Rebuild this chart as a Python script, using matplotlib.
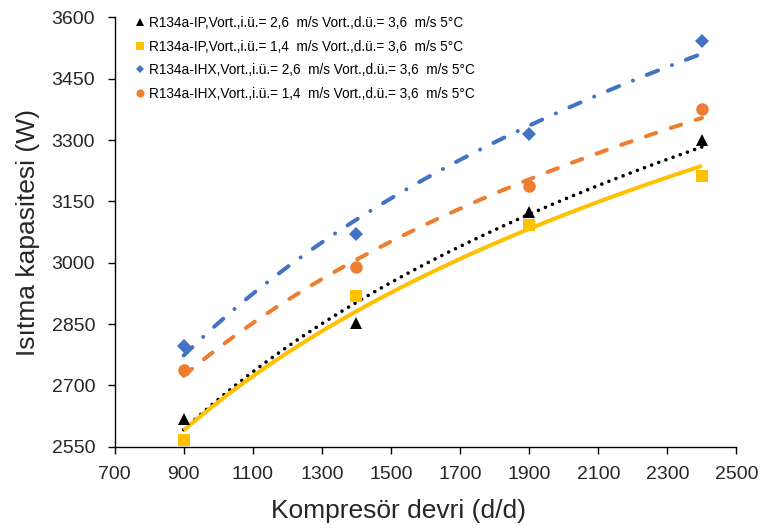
import numpy as np
import matplotlib
matplotlib.use("Agg")
import matplotlib.pyplot as plt
from matplotlib.lines import Line2D

plt.rcParams['font.family'] = ['Liberation Sans', 'DejaVu Sans']

rpm = [900, 1400, 1900, 2400]
ip_26 = [2618, 2852, 3125, 3301]
ip_14 = [2567, 2919, 3092, 3213]
ihx_26 = [2797, 3071, 3314, 3543]
ihx_14 = [2737, 2990, 3187, 3375]

labels = [
    "R134a-IP,Vort.,i.ü.= 2,6  m/s Vort.,d.ü.= 3,6  m/s 5°C",
    "R134a-IP,Vort.,i.ü.= 1,4  m/s Vort.,d.ü.= 3,6  m/s 5°C",
    "R134a-IHX,Vort.,i.ü.= 2,6  m/s Vort.,d.ü.= 3,6  m/s 5°C",
    "R134a-IHX,Vort.,i.ü.= 1,4  m/s Vort.,d.ü.= 3,6  m/s 5°C",
]
colors = ["black", "#FFC000", "#4472C4", "#ED7D31"]
markers = ["^", "s", "D", "o"]
msizes = [9, 9, 7, 9]
lstyles = [(0, (0.01, 2.1)), "-", (0, (3.0, 3.7, 0.01, 3.7)), (0, (2.7, 3.8))]
caps = ["round", "butt", "round", "round"]
lws = [2.6, 2.9, 2.9, 2.9]

fig = plt.figure(figsize=(7.64, 5.28), dpi=100)
ax = fig.add_axes([0.150, 0.154, 0.814, 0.813])

x = np.array(rpm, dtype=float)
xs = np.linspace(x.min(), x.max(), 200)
series = [ip_26, ip_14, ihx_26, ihx_14]
handles = []
for y, c, m, ms, ls, cap, lw, lab in zip(series, colors, markers, msizes, lstyles, caps, lws, labels):
    y = np.array(y, dtype=float)
    a, b = np.polyfit(np.log(x), y, 1)
    ax.plot(xs, a * np.log(xs) + b, color=c, lw=lw, linestyle=ls,
            dash_capstyle=cap, solid_capstyle="butt", zorder=2)
    ax.plot(x, y, linestyle="none", marker=m, markersize=ms, color=c,
            markeredgewidth=0, zorder=3, clip_on=False)
    handles.append(Line2D([], [], linestyle="none", marker=m, color=c,
                          markersize=ms * 0.65, markeredgewidth=0, label=lab))

ax.set_xlim(700, 2500)
ax.set_ylim(2550, 3600)
ax.set_xticks(np.arange(700, 2501, 200))
ax.set_yticks(np.arange(2550, 3601, 150))
ax.spines['top'].set_visible(False)
ax.spines['right'].set_visible(False)
ax.spines['left'].set_linewidth(1.0)
ax.spines['bottom'].set_linewidth(1.0)
ax.tick_params(axis='both', direction='out', length=5, width=1, labelsize=14,
               labelcolor='#262626', pad=9)
ax.set_xlabel("Kompresör devri (d/d)", fontsize=19, color='#262626')
ax.xaxis.set_label_coords(0.457, -0.121)
ax.set_ylabel("Isıtma kapasitesi (W)", fontsize=19, color='#262626', labelpad=8)

leg = ax.legend(handles=handles, loc='upper left', bbox_to_anchor=(0.025, 1.016),
                frameon=False, fontsize=9.8, handlelength=0.6, handletextpad=0.4,
                labelspacing=0.70, borderaxespad=0)

fig.savefig("out.png", dpi=100)
